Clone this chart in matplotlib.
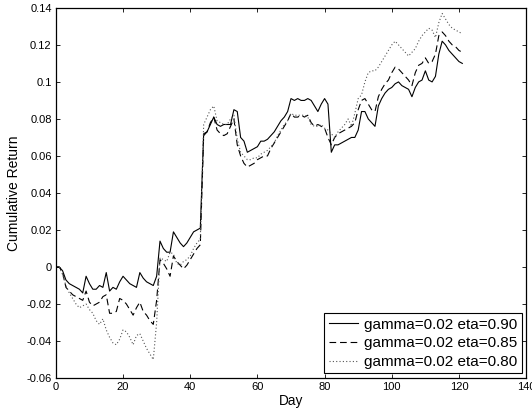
import matplotlib
matplotlib.use('Agg')
import matplotlib.pyplot as plt
from matplotlib.ticker import FuncFormatter

plt.rcParams['font.family'] = ['Liberation Sans', 'DejaVu Sans']

# cumulative return per day
ret_090 = [0.000, 0.000, -0.002, -0.007, -0.009, -0.010, -0.011, -0.012, -0.014, -0.005,
           -0.009, -0.012, -0.012, -0.010, -0.011, -0.003, -0.013, -0.011, -0.012, -0.008,
           -0.005, -0.007, -0.009, -0.010, -0.011, -0.003, -0.006, -0.008, -0.009, -0.010,
           -0.005, 0.014, 0.010, 0.008, 0.008, 0.019, 0.016, 0.013, 0.011, 0.013,
           0.016, 0.019, 0.020, 0.021, 0.072, 0.073, 0.077, 0.081, 0.077, 0.076,
           0.077, 0.077, 0.077, 0.085, 0.084, 0.070, 0.068, 0.062, 0.063, 0.064,
           0.065, 0.068, 0.068, 0.069, 0.071, 0.073, 0.076, 0.079, 0.081, 0.084,
           0.091, 0.090, 0.091, 0.090, 0.090, 0.091, 0.090, 0.087, 0.084, 0.088,
           0.091, 0.088, 0.062, 0.066, 0.066, 0.067, 0.068, 0.069, 0.070, 0.070,
           0.074, 0.084, 0.084, 0.080, 0.078, 0.076, 0.087, 0.091, 0.094, 0.096,
           0.097, 0.099, 0.100, 0.098, 0.097, 0.096, 0.092, 0.097, 0.100, 0.101,
           0.106, 0.101, 0.100, 0.103, 0.115, 0.122, 0.120, 0.117, 0.115, 0.113,
           0.111, 0.110]

ret_085 = [0.000, 0.000, -0.003, -0.011, -0.013, -0.015, -0.016, -0.017, -0.018, -0.013,
           -0.019, -0.021, -0.020, -0.019, -0.016, -0.015, -0.025, -0.025, -0.024, -0.017,
           -0.018, -0.020, -0.023, -0.026, -0.022, -0.019, -0.024, -0.026, -0.029, -0.031,
           -0.018, 0.004, 0.002, -0.001, -0.005, 0.006, 0.003, 0.001, -0.001, 0.001,
           0.004, 0.007, 0.010, 0.012, 0.071, 0.073, 0.078, 0.081, 0.074, 0.072,
           0.071, 0.072, 0.076, 0.080, 0.066, 0.060, 0.056, 0.054, 0.055, 0.056,
           0.058, 0.059, 0.060, 0.060, 0.064, 0.067, 0.070, 0.073, 0.076, 0.079,
           0.083, 0.081, 0.081, 0.082, 0.081, 0.082, 0.078, 0.076, 0.077, 0.076,
           0.075, 0.070, 0.066, 0.070, 0.072, 0.073, 0.074, 0.075, 0.076, 0.078,
           0.085, 0.090, 0.091, 0.088, 0.085, 0.084, 0.092, 0.096, 0.099, 0.101,
           0.105, 0.108, 0.107, 0.105, 0.103, 0.101, 0.098, 0.105, 0.109, 0.110,
           0.113, 0.110, 0.111, 0.115, 0.125, 0.127, 0.125, 0.122, 0.120, 0.119,
           0.117, 0.116]

ret_080 = [0.000, 0.000, -0.004, -0.010, -0.014, -0.017, -0.020, -0.022, -0.021, -0.020,
           -0.023, -0.025, -0.029, -0.031, -0.028, -0.034, -0.038, -0.041, -0.042, -0.039,
           -0.034, -0.035, -0.038, -0.042, -0.037, -0.036, -0.040, -0.044, -0.047, -0.050,
           -0.030, 0.005, 0.004, 0.003, 0.008, 0.007, 0.002, 0.001, 0.003, 0.004,
           0.006, 0.010, 0.013, 0.015, 0.077, 0.081, 0.085, 0.087, 0.079, 0.078,
           0.077, 0.077, 0.080, 0.082, 0.069, 0.062, 0.060, 0.058, 0.058, 0.059,
           0.059, 0.061, 0.062, 0.063, 0.065, 0.067, 0.071, 0.074, 0.077, 0.079,
           0.083, 0.082, 0.082, 0.082, 0.082, 0.081, 0.077, 0.076, 0.076, 0.077,
           0.075, 0.074, 0.072, 0.070, 0.073, 0.075, 0.077, 0.080, 0.076, 0.083,
           0.091, 0.093, 0.100, 0.105, 0.106, 0.106, 0.108, 0.111, 0.114, 0.117,
           0.120, 0.122, 0.120, 0.118, 0.116, 0.114, 0.116, 0.118, 0.122, 0.125,
           0.127, 0.129, 0.128, 0.124, 0.132, 0.137, 0.134, 0.131, 0.129, 0.128,
           0.127, 0.126]

days = list(range(len(ret_090)))
labels = ['gamma=0.02 eta=0.90', 'gamma=0.02 eta=0.85', 'gamma=0.02 eta=0.80']
xticks = [0, 20, 40, 60, 80, 100, 120, 140]
yticks = [-0.06, -0.04, -0.02, 0, 0.02, 0.04, 0.06, 0.08, 0.1, 0.12, 0.14]

fig = plt.figure(figsize=(5.32, 4.15), dpi=100)
ax = fig.add_axes([0.105, 0.089, 0.884, 0.892])

ax.plot(days, ret_090, color='black', linestyle='-', linewidth=0.8, label=labels[0])
ax.plot(days, ret_085, color='black', linestyle=(0, (6, 3.5)), linewidth=0.8, label=labels[1])
ax.plot(days, ret_080, color='#555555', linestyle=(0, (1, 2)), linewidth=0.8, label=labels[2])

ax.set_xlim(0, 140)
ax.set_ylim(-0.06, 0.14)
ax.set_xticks(xticks)
ax.set_yticks(yticks)
ax.yaxis.set_major_formatter(FuncFormatter(lambda v, p: '%g' % round(v, 4)))
ax.tick_params(direction='in', top=True, right=True, length=3, width=0.6,
               labelsize=8, pad=3)
for s in ax.spines.values():
    s.set_linewidth(0.9)

ax.set_xlabel('Day', fontsize=9.8, labelpad=1)
ax.set_ylabel('Cumulative Return', fontsize=10, labelpad=4)

leg = ax.legend(loc='lower right', fontsize=11, fancybox=False, framealpha=1,
                edgecolor='black', borderpad=0.3, labelspacing=0.3,
                handlelength=1.9, handletextpad=0.4, borderaxespad=0.3)
leg.get_frame().set_linewidth(0.8)

fig.savefig('out.png', dpi=100)
